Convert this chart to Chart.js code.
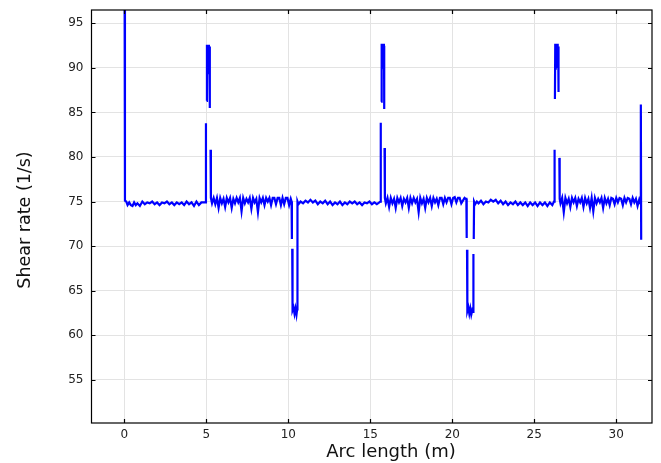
<!DOCTYPE html>
<html>
<head>
<meta charset="utf-8">
<script src="https://cdn.jsdelivr.net/npm/chart.js@4.4.1/dist/chart.umd.min.js"></script>
<style>
  html, body { margin: 0; padding: 0; background: #ffffff; }
  canvas { display: block; }
</style>
</head>
<body>
<canvas id="shear-chart" width="661" height="463"></canvas>
<script>
// arc length (m) along the line, null shear rate = break in the curve
const arcLength = [
  0, 0.04, 0.12, 0.2, 0.3, 0.4, 0.5, 0.6, 0.7, 0.8, 0.95, 1.1, 1.25, 1.4, 1.55, 1.7, 1.85,
  2.0, 2.15, 2.3, 2.45, 2.6, 2.75, 2.9, 3.05, 3.2, 3.35, 3.5, 3.65, 3.8, 3.95, 4.1, 4.25,
  4.4, 4.55, 4.7, 4.85, 4.96,
  4.98, 5.0, 5.02, 5.04, 5.07, 5.1, 5.13, 5.16, 5.19, 5.21, 5.22, 5.24, 5.26, 5.28,
  5.35, 5.45, 5.55, 5.65, 5.75, 5.85, 5.95, 6.05, 6.15, 6.25, 6.35, 6.45, 6.55, 6.65, 6.75,
  6.85, 6.95, 7.05, 7.15, 7.25, 7.35, 7.45, 7.55, 7.65, 7.75, 7.85, 7.95, 8.05, 8.15, 8.25,
  8.35, 8.45, 8.55, 8.65, 8.75, 8.85, 8.95, 9.05, 9.15, 9.25, 9.35, 9.45, 9.55, 9.65, 9.75,
  9.85, 9.95, 10.05, 10.15,
  10.2, 10.22, 10.23, 10.24, 10.26, 10.32, 10.38, 10.44, 10.5, 10.54, 10.56,
  10.62, 10.75, 10.9, 11.05, 11.2, 11.35, 11.5, 11.65, 11.8, 11.95, 12.1, 12.25, 12.4, 12.55,
  12.7, 12.85, 13.0, 13.15, 13.3, 13.45, 13.6, 13.75, 13.9, 14.05, 14.2, 14.35, 14.5, 14.65,
  14.8, 14.95, 15.1, 15.25, 15.4, 15.55, 15.62,
  15.64, 15.65, 15.66, 15.68, 15.71, 15.74, 15.77, 15.8, 15.83, 15.84, 15.85, 15.86, 15.87, 15.89,
  15.95, 16.05, 16.15, 16.25, 16.35, 16.45, 16.55, 16.65, 16.75, 16.85, 16.95, 17.05, 17.15,
  17.25, 17.35, 17.45, 17.55, 17.65, 17.75, 17.85, 17.95, 18.05, 18.15, 18.25, 18.35, 18.45,
  18.55, 18.65, 18.75, 18.85, 18.95, 19.05, 19.15, 19.25, 19.35, 19.45, 19.55, 19.65, 19.75,
  19.85, 19.95, 20.05, 20.15, 20.25, 20.35, 20.45, 20.55, 20.65, 20.75, 20.82,
  20.86, 20.88, 20.89, 20.9, 20.92, 20.98, 21.04, 21.1, 21.16, 21.22, 21.27, 21.29, 21.3, 21.31, 21.33,
  21.4, 21.5, 21.6, 21.75, 21.9, 22.05, 22.2, 22.35, 22.5, 22.65, 22.8, 22.95, 23.1, 23.25,
  23.4, 23.55, 23.7, 23.85, 24.0, 24.15, 24.3, 24.45, 24.6, 24.75, 24.9, 25.05, 25.2, 25.35,
  25.5, 25.65, 25.8, 25.95, 26.1, 26.2, 26.23,
  26.24, 26.25, 26.26, 26.28, 26.31, 26.34, 26.37, 26.4, 26.43, 26.46, 26.48, 26.5, 26.53, 26.55,
  26.6, 26.7, 26.8, 26.9, 27.0, 27.1, 27.2, 27.3, 27.4, 27.5, 27.6, 27.7, 27.8, 27.9, 28.0,
  28.1, 28.2, 28.3, 28.4, 28.5, 28.6, 28.7, 28.8, 28.9, 29.0, 29.1, 29.2, 29.3, 29.4, 29.5,
  29.6, 29.7, 29.8, 29.9, 30.0, 30.1, 30.2, 30.3, 30.4, 30.5, 30.6, 30.7, 30.8, 30.9, 31.0,
  31.1, 31.2, 31.3, 31.4, 31.47,
  31.5, 31.52,
];

// shear rate (1/s)
const shearRate = [
  120, 75.1, 75.0, 74.6, 74.9, 74.6, 74.5, 74.9, 74.6, 74.8, 74.5, 75.0, 74.7, 74.9, 74.8, 75.0, 74.7,
  74.9, 74.6, 74.9, 74.8, 75.0, 74.7, 74.9, 74.6, 74.9, 74.7, 74.9, 74.6, 75.0, 74.7, 74.9, 74.5,
  75.0, 74.6, 74.9, 74.9, 74.9,
  83.8, null, 86.3, 92.6, 89.4, 92.5, 90.2, 92.6, 89.8, 92.4, 85.5, null, 80.8, 75.4,
  74.8, 75.4, 74.7, 75.4, 74.3, 75.4, 74.8, 75.3, 74.4, 75.4,
  74.9, 75.4, 74.3, 75.3, 74.8, 75.4, 74.9, 75.4, 73.9, 75.4,
  74.8, 75.3, 74.9, 75.4, 74.2, 75.4, 74.9, 75.3, 73.8, 75.4,
  74.9, 75.4, 74.6, 75.4, 75.0, 75.4, 74.6, 75.4, 75.4, 74.7,
  75.4, 75.4, 74.6, 75.4, 74.7, 75.4, 75.4, 74.6, 75.3,
  75.0, 70.8, null, 69.7, 62.8, 63.1, 62.4, 63.0, 62.3, 62.9, 75.0,
  74.7, 75.0, 74.8, 75.1, 74.9, 75.2, 74.9, 75.1, 74.7, 75.0, 74.8, 75.1, 74.7, 75.0,
  74.6, 74.9, 74.7, 75.0, 74.6, 74.9, 74.7, 75.0, 74.8, 75.0, 74.7, 74.9, 74.6, 74.9,
  74.8, 75.0, 74.7, 74.9, 74.7, 74.9, 75.0,
  83.85, null, 86.2, 92.7, 89.6, 92.6, 90.3, 92.7, 89.9, 92.5, 85.4, null, 81.0, 75.4,
  74.8, 75.4, 74.4, 75.4, 74.8, 75.3, 74.3, 75.4, 74.9, 75.4,
  74.5, 75.3, 74.9, 75.4, 74.3, 75.4, 74.8, 75.4, 74.9, 75.3,
  73.8, 75.4, 74.8, 75.3, 74.3, 75.4, 74.9, 75.4, 74.5, 75.4,
  74.9, 75.3, 74.6, 75.4, 75.4, 74.7, 75.4, 74.9, 75.4, 75.4,
  74.7, 75.4, 75.5, 74.9, 75.4, 75.4, 74.8, 75.1, 75.4, 75.3,
  75.3, 70.9, null, 69.6, 62.7, 63.1, 62.4, 63.0, 62.3, 62.8, 62.6, 69.1, null, 70.8, 75.0,
  74.7, 75.0, 74.8, 75.1, 74.7, 75.0, 74.9, 75.2, 75.0, 75.2, 74.8, 75.1, 74.7, 75.0,
  74.6, 74.9, 74.7, 75.0, 74.6, 74.9, 74.6, 74.9, 74.5, 74.9, 74.6, 74.9, 74.5, 74.9,
  74.6, 74.9, 74.5, 74.9, 74.6, 75.0, 75.0,
  80.8, null, 86.5, 92.7, 89.8, 92.6, 90.4, 92.7, 90.0, 92.4, 87.3, null, 79.9, 75.3,
  74.8, 75.4, 73.8, 75.4, 74.8, 75.3, 74.4, 75.4, 74.9, 75.4,
  74.5, 75.3, 74.9, 75.4, 74.4, 75.4, 74.8, 75.3, 74.3, 75.4,
  73.9, 75.4, 74.8, 75.3, 74.9, 75.4, 74.3, 75.4, 74.8, 75.3,
  74.6, 75.4, 75.3, 74.7, 75.4, 74.9, 75.4, 75.3, 74.6, 75.4,
  74.9, 75.4, 75.3, 74.7, 75.4, 74.9, 75.3, 74.5, 75.2, 74.8,
  85.9, 70.7,
];

const xTickValues = [0, 5, 10, 15, 20, 25, 30];
const yTickValues = [55, 60, 65, 70, 75, 80, 85, 90, 95];

const xTitle = "Arc length (m)";
const yTitle = "Shear rate (1/s)";

const points = arcLength.map((x, i) => ({ x: x, y: shearRate[i] }));

Chart.defaults.font.family = "'DejaVu Sans', sans-serif";

function keepTicks(values) {
  return function (scale) {
    scale.ticks = values.map((v) => ({ value: v }));
  };
}

// frame, inward tick marks and axis titles
const framePlugin = {
  id: "frame",
  afterDraw(chart) {
    const ctx = chart.ctx;
    const area = chart.chartArea;
    const xs = chart.scales.x;
    const ys = chart.scales.y;
    const tick = 4;
    ctx.save();
    ctx.strokeStyle = "#000000";
    ctx.lineWidth = 1.2;
    ctx.strokeRect(area.left, area.top, area.right - area.left, area.bottom - area.top);
    ctx.beginPath();
    xTickValues.forEach((v) => {
      const px = Math.round(xs.getPixelForValue(v)) + 0.5;
      ctx.moveTo(px, area.bottom);
      ctx.lineTo(px, area.bottom - tick);
      ctx.moveTo(px, area.top);
      ctx.lineTo(px, area.top + tick);
    });
    yTickValues.forEach((v) => {
      const py = Math.round(ys.getPixelForValue(v)) + 0.5;
      ctx.moveTo(area.left, py);
      ctx.lineTo(area.left + tick, py);
      ctx.moveTo(area.right, py);
      ctx.lineTo(area.right - tick, py);
    });
    ctx.stroke();

    ctx.fillStyle = "#111111";
    ctx.textAlign = "center";
    ctx.textBaseline = "middle";
    ctx.font = "18px 'DejaVu Sans'";
    ctx.fillText(xTitle, 391, 452);
    ctx.translate(25, 220);
    ctx.rotate(-Math.PI / 2);
    ctx.font = "17.5px 'DejaVu Sans'";
    ctx.fillText(yTitle, 0, 0);
    ctx.restore();
  },
};

var ctx = document.getElementById("shear-chart");

new Chart(ctx, {
  type: "line",
  data: {
    datasets: [
      {
        data: points,
        borderColor: "#0000ff",
        borderWidth: 2.2,
        pointRadius: 0,
        tension: 0,
        spanGaps: false,
        fill: false,
      },
    ],
  },
  options: {
    responsive: false,
    animation: false,
    layout: { padding: { top: 10, right: 9, left: 0, bottom: 0 } },
    plugins: {
      legend: { display: false },
      tooltip: { enabled: false },
    },
    scales: {
      x: {
        type: "linear",
        min: -2,
        max: 32.18,
        afterBuildTicks: keepTicks(xTickValues),
        afterFit: (scale) => {
          scale.height = 40;
          scale.paddingLeft = 0;
          scale.paddingRight = 0;
        },
        grid: { color: "#e3e3e3", lineWidth: 1, drawTicks: false },
        border: { display: false },
        ticks: {
          padding: 5,
          color: "#222222",
          font: { size: 12 },
          maxRotation: 0,
          autoSkip: false,
        },
      },
      y: {
        type: "linear",
        min: 50.14,
        max: 96.5,
        afterBuildTicks: keepTicks(yTickValues),
        afterFit: (scale) => {
          scale.width = 91.5;
          scale.paddingTop = 0;
          scale.paddingBottom = 0;
        },
        grid: { color: "#e3e3e3", lineWidth: 1, drawTicks: false },
        border: { display: false },
        ticks: {
          padding: 8,
          color: "#222222",
          font: { size: 12 },
          autoSkip: false,
        },
      },
    },
  },
  plugins: [framePlugin],
});
</script>
</body>
</html>
